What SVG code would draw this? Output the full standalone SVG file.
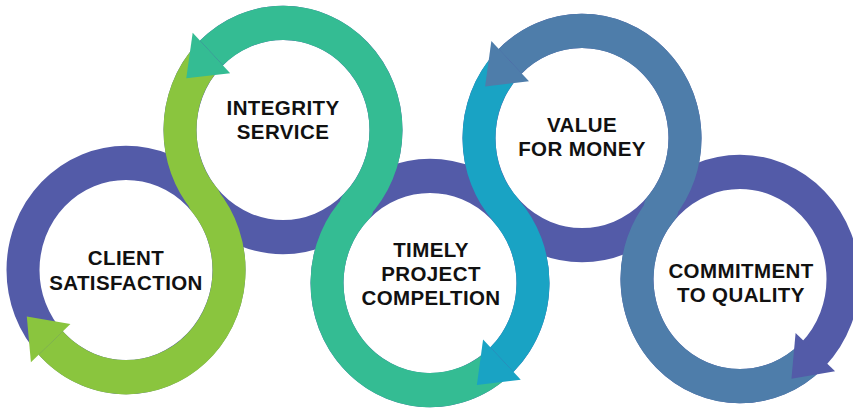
<svg xmlns="http://www.w3.org/2000/svg" width="853" height="409" viewBox="0 0 853 409">
<style>
.ring{fill:none;stroke:#535BA8;stroke-width:33}
.band{fill:none;stroke-width:33;stroke-linejoin:round}
.lbl{font-family:"Liberation Sans",Arial,sans-serif;font-weight:700;font-size:20.5px;fill:#111;text-anchor:middle;letter-spacing:0.4px}
</style>
<rect width="853" height="409" fill="#fff"/>
<g id="node-client">
  <g transform="scale(1,1.04)"><circle class="ring" cx="126" cy="259.6" r="103"/></g>
</g>
<g id="node-integrity">
  <g transform="scale(1,1.04)"><circle class="ring" cx="283" cy="125" r="103"/></g>
</g>
<g id="node-timely">
  <g transform="scale(1,1.04)"><circle class="ring" cx="430" cy="272.1" r="103"/></g>
</g>
<g id="node-value">
  <g transform="scale(1,1.04)"><circle class="ring" cx="582" cy="132.7" r="103"/></g>
</g>
<g id="node-commitment">
  <g transform="scale(1,1.04)"><circle class="ring" cx="740" cy="268.3" r="103"/></g>
</g>
<g id="connectors" transform="scale(1,1.04)">
  <path class="band" stroke="#8AC53E" d="M206.46,56.08 A103,103 0 0 0 204.79,192.03 L204.21,192.57 A103,103 0 0 1 50.67,329.85"/>
  <polygon fill="#8AC53E" points="70.41,311.43 30.92,348.26 26.80,304.25"/>
  <path class="band" stroke="#34BC93" d="M496.21,351.00 A103,103 0 0 1 357.17,199.27 L355.83,197.83 A103,103 0 0 0 356.47,52.81 A103,103 0 0 0 211.45,50.91"/>
  <polygon fill="#34BC93" points="230.20,70.33 192.69,31.49 186.27,75.22"/>
  <path class="band" stroke="#19A3C4" d="M505.46,63.78 A103,103 0 0 0 506.06,202.29 L505.94,202.51 A103,103 0 0 1 501.94,345.82"/>
  <polygon fill="#19A3C4" points="483.08,326.49 520.79,365.14 476.89,370.26"/>
  <path class="band" stroke="#4E7DAA" d="M810.25,343.63 A103,103 0 0 1 661.79,201.27 L660.21,199.73 A103,103 0 0 0 510.19,58.86"/>
  <polygon fill="#4E7DAA" points="529.01,78.22 491.36,39.50 485.10,83.26"/>
  <polygon fill="#535BA8" points="795.59,320.13 835.08,356.96 791.46,364.15"/>
</g>
<g id="labels">
  <text class="lbl" x="126" y="265">CLIENT</text>
  <text class="lbl" x="126" y="290">SATISFACTION</text>
  <text class="lbl" x="283" y="115">INTEGRITY</text>
  <text class="lbl" x="283" y="139">SERVICE</text>
  <text class="lbl" x="431" y="257">TIMELY</text>
  <text class="lbl" x="431" y="281">PROJECT</text>
  <text class="lbl" x="431" y="305">COMPELTION</text>
  <text class="lbl" x="582" y="132">VALUE</text>
  <text class="lbl" x="582" y="156">FOR MONEY</text>
  <text class="lbl" x="741" y="278">COMMITMENT</text>
  <text class="lbl" x="741" y="302">TO QUALITY</text>
</g>
</svg>
